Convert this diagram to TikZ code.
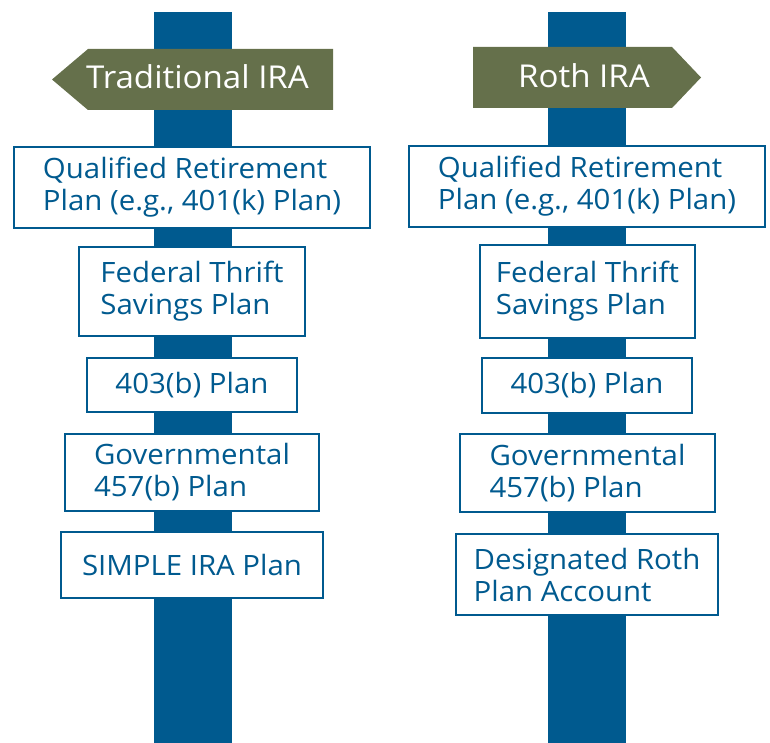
\documentclass[tikz,border=0pt]{standalone}
\usepackage{fontspec}
\setmainfont{Open Sans}[FakeStretch=1.05]
\definecolor{postblue}{RGB}{0,90,143}
\definecolor{signolive}{RGB}{101,112,75}
\newcommand{\planfont}{\fontsize{28}{32}\selectfont}
\newcommand{\signfont}{\fontsize{31.5}{34}\selectfont}
\begin{document}
\begin{tikzpicture}[x=1pt,y=-1pt,
  post/.style={fill=postblue, draw=none},
  sign/.style={fill=signolive, draw=none},
  planbox/.style={draw=postblue, line width=2pt, fill=white, text=postblue,
    align=left, font=\planfont, inner sep=0pt},
  signtext/.style={text=white, font=\signfont, inner sep=0pt, anchor=base}]
\useasboundingbox (0,0) rectangle (770,743);
% posts
\fill[post] (154,12) rectangle (232,743);
\fill[post] (548,12) rectangle (626,743);
% signs
\fill[sign] (52,79.5) -- (88,49) -- (333,49) -- (333,110) -- (88,110) -- cycle;
\fill[sign] (473,47) -- (672,47) -- (701,77.5) -- (672,108) -- (473,108) -- cycle;
\node[signtext] (trad) at (197.5,89) {Traditional IRA};
\node[signtext] (roth) at (584,88) {Roth IRA};
% left column
\node[planbox, minimum width=356pt, minimum height=81pt] (l1) at (192,187.5) {Qualified Retirement\\Plan (e.g., 401(k) Plan)};
\node[planbox, minimum width=226pt, minimum height=89pt] (l2) at (192,291.5) {Federal Thrift\\Savings Plan};
\node[planbox, minimum width=210pt, minimum height=54pt] (l3) at (192,385) {403(b) Plan};
\node[planbox, minimum width=254pt, minimum height=77pt] (l4) at (192,472.5) {Governmental\\457(b) Plan};
\node[planbox, minimum width=262pt, minimum height=66pt] (l5) at (192,565) {SIMPLE IRA Plan};
% right column
\node[planbox, minimum width=356pt, minimum height=81pt] (r1) at (587,186.5) {Qualified Retirement\\Plan (e.g., 401(k) Plan)};
\node[planbox, minimum width=215pt, minimum height=93pt] (r2) at (587.5,291.5) {Federal Thrift\\Savings Plan};
\node[planbox, minimum width=210pt, minimum height=55pt] (r3) at (587,385.5) {403(b) Plan};
\node[planbox, minimum width=255pt, minimum height=78pt] (r4) at (587.5,473) {Governmental\\457(b) Plan};
\node[planbox, minimum width=262pt, minimum height=81pt] (r5) at (587,574.5) {Designated Roth\\Plan Account};
\end{tikzpicture}
\end{document}
